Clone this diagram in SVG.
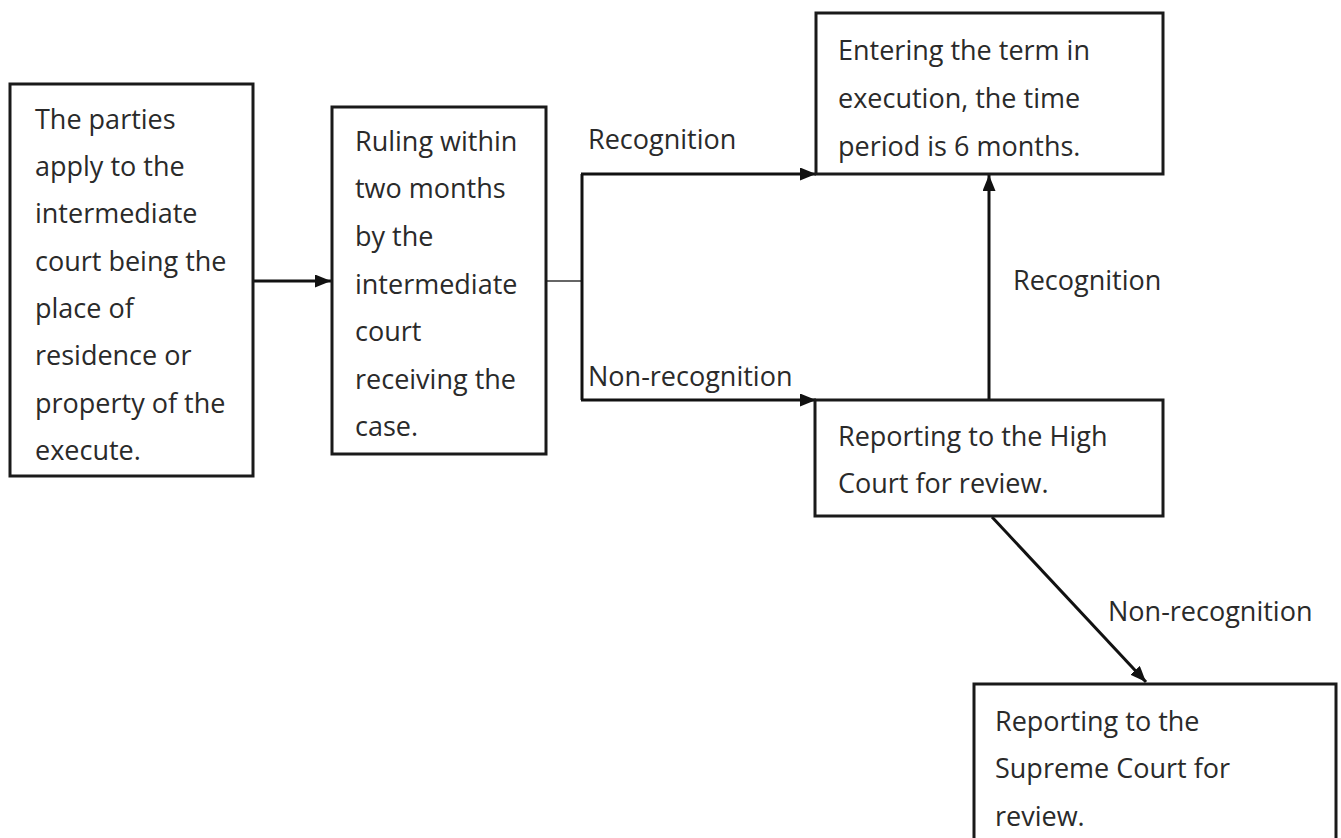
<svg xmlns="http://www.w3.org/2000/svg" width="1341" height="838" viewBox="0 0 1341 838">
<defs>
<marker id="ah" viewBox="0 0 16 13" refX="16" refY="6.5" markerWidth="16" markerHeight="13" markerUnits="userSpaceOnUse" orient="auto">
<path d="M0,0 L16,6.5 L0,13 Z" fill="#111"/>
</marker>
<style>
.box{fill:#fff;stroke:#1a1a1a;stroke-width:3}
.t{font-family:"Open Sans","Liberation Sans",sans-serif;font-size:27px;fill:#2a2a2a}
.c{fill:none;stroke:#111;stroke-width:3}
.thin{fill:none;stroke:#333;stroke-width:1.5}
</style>
</defs>
<rect width="1341" height="838" fill="#fff"/>
<g id="connectors">
<line class="c" x1="253" y1="281" x2="331" y2="281" marker-end="url(#ah)"/>
<line class="thin" x1="546" y1="281" x2="582" y2="281"/>
<line class="c" x1="582" y1="174" x2="582" y2="400"/>
<line class="c" x1="581" y1="174" x2="816" y2="174" marker-end="url(#ah)"/>
<line class="c" x1="581" y1="400" x2="816" y2="400" marker-end="url(#ah)"/>
<line class="c" x1="989" y1="400" x2="989" y2="175" marker-end="url(#ah)"/>
<line class="c" x1="992" y1="517" x2="1146" y2="682" marker-end="url(#ah)"/>
<text class="t" x="588" y="149">Recognition</text>
<text class="t" x="588" y="386">Non-recognition</text>
<text class="t" x="1013" y="290">Recognition</text>
<text class="t" x="1108" y="621">Non-recognition</text>
</g>
<g id="n1">
<rect class="box" x="10" y="84" width="243" height="392"/>
<text class="t" x="35" y="129">The parties</text>
<text class="t" x="35" y="176">apply to the</text>
<text class="t" x="35" y="223">intermediate</text>
<text class="t" x="35" y="271">court being the</text>
<text class="t" x="35" y="318">place of</text>
<text class="t" x="35" y="365">residence or</text>
<text class="t" x="35" y="413">property of the</text>
<text class="t" x="35" y="460">execute.</text>
</g>
<g id="n2">
<rect class="box" x="332" y="107" width="214" height="347"/>
<text class="t" x="355" y="151">Ruling within</text>
<text class="t" x="355" y="198">two months</text>
<text class="t" x="355" y="246">by the</text>
<text class="t" x="355" y="294">intermediate</text>
<text class="t" x="355" y="341">court</text>
<text class="t" x="355" y="389">receiving the</text>
<text class="t" x="355" y="436">case.</text>
</g>
<g id="n3">
<rect class="box" x="816" y="13" width="347" height="161"/>
<text class="t" x="838" y="60">Entering the term in</text>
<text class="t" x="838" y="108">execution, the time</text>
<text class="t" x="838" y="156">period is 6 months.</text>
</g>
<g id="n4">
<rect class="box" x="815" y="400" width="348" height="116"/>
<text class="t" x="838" y="446">Reporting to the High</text>
<text class="t" x="838" y="493">Court for review.</text>
</g>
<g id="n5">
<rect class="box" x="974" y="684" width="362" height="160"/>
<text class="t" x="995" y="731">Reporting to the</text>
<text class="t" x="995" y="778">Supreme Court for</text>
<text class="t" x="995" y="826">review.</text>
</g>
</svg>
